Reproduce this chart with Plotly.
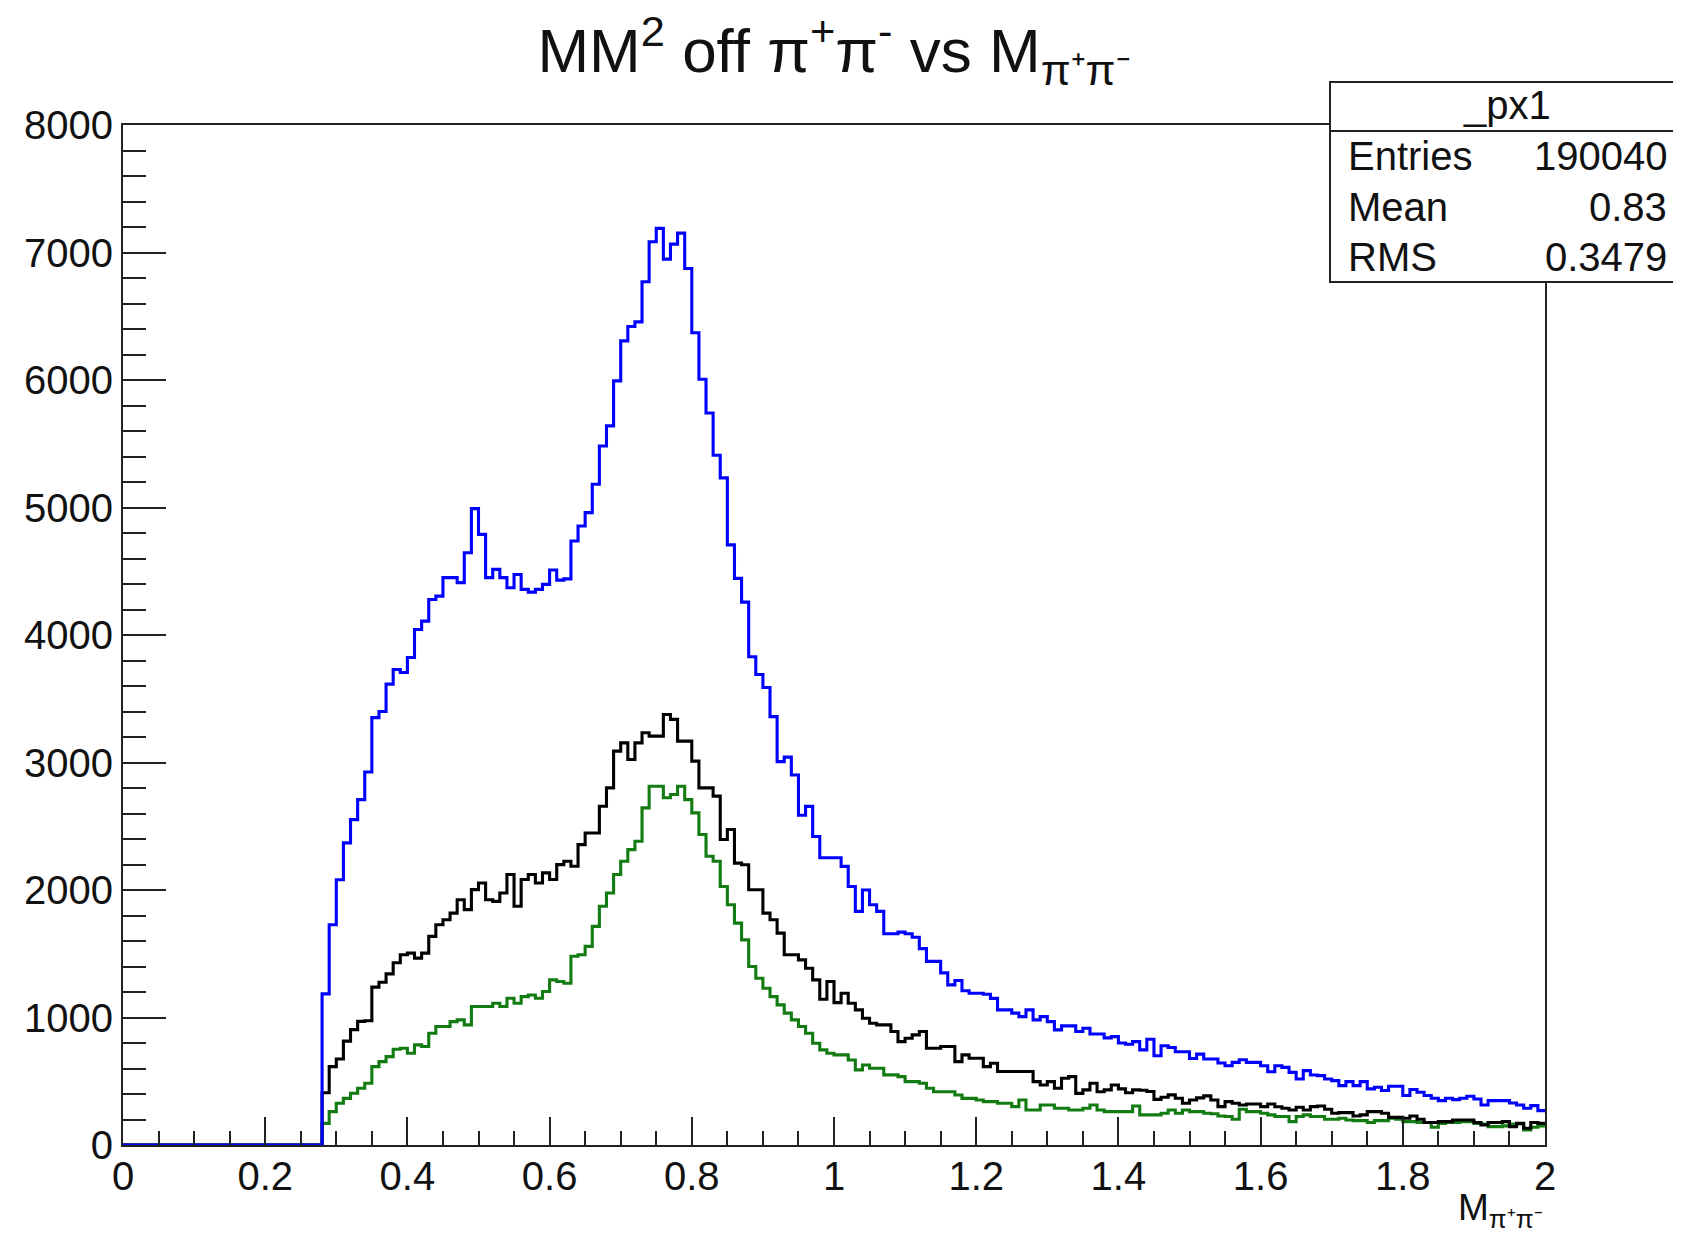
import numpy as np
import plotly.graph_objects as go

# ---------------- data (200 bins, 0..2, width 0.01) ----------------
x_lo, x_hi, n_bins = 0.0, 2.0, 200

zeros_head = [0, 0, 0, 0, 0, 0, 0, 0, 0, 0, 0, 0, 0, 0,
              0, 0, 0, 0, 0, 0, 0, 0, 0, 0, 0, 0, 0, 0]   # bins 0.00 .. 0.27

blue_counts = zeros_head + [
    1185, 1727, 2080, 2370, 2552, 2709, 2925, 3352, 3400, 3615,   # 0.28-0.37
    3729, 3706, 3823, 4043, 4109, 4279, 4305, 4450, 4450, 4411,   # 0.38-0.47
    4645, 4991, 4789, 4450, 4515, 4450, 4371, 4475, 4358, 4336,   # 0.48-0.57
    4358, 4397, 4510, 4430, 4440, 4737, 4855, 4960, 5182, 5482,   # 0.58-0.67
    5640, 5993, 6307, 6420, 6456, 6770, 7084, 7189, 6948, 7066,   # 0.68-0.77
    7152, 6875, 6371, 6006, 5741, 5410, 5232, 4707, 4444, 4258,   # 0.78-0.87
    3829, 3690, 3588, 3360, 3007, 3042, 2902, 2586, 2656, 2420,   # 0.88-0.97
    2253, 2253, 2253, 2185, 2028, 1832, 2000, 1884, 1832, 1657,   # 0.98-1.07
    1657, 1670, 1657, 1630, 1540, 1440, 1440, 1350, 1256, 1290,   # 1.08-1.17
    1210, 1190, 1190, 1182, 1150, 1060, 1060, 1034, 1007, 1060,   # 1.18-1.27
    981, 1007, 968, 903, 934, 934, 890, 916, 871, 871,            # 1.28-1.37
    840, 850, 800, 790, 811, 746, 830, 700, 778, 765,             # 1.38-1.47
    731, 731, 679, 713, 674, 674, 643, 622, 648, 669,             # 1.48-1.57
    648, 648, 622, 575, 622, 609, 570, 518, 583, 549,             # 1.58-1.67
    544, 518, 505, 466, 497, 466, 497, 440, 453, 427,             # 1.68-1.77
    461, 461, 388, 435, 414, 388, 367, 348, 367, 356,             # 1.78-1.87
    367, 382, 361, 314, 348, 348, 348, 330, 314, 288,             # 1.88-1.97
    309, 270,                                                     # 1.98-1.99
]

black_counts = zeros_head + [
    410, 615, 675, 815, 905, 970, 975, 1238, 1276, 1342,          # 0.28-0.37
    1430, 1492, 1505, 1466, 1505, 1636, 1728, 1767, 1819, 1924,   # 0.38-0.47
    1846, 2003, 2055, 1924, 1911, 1977, 2121, 1872, 2082, 2121,   # 0.48-0.57
    2055, 2134, 2082, 2199, 2225, 2186, 2356, 2447, 2447, 2657,   # 0.58-0.67
    2801, 3089, 3154, 3023, 3154, 3233, 3207, 3207, 3377, 3338,   # 0.68-0.77
    3168, 3168, 3011, 2801, 2801, 2736, 2396, 2474, 2211, 2198,   # 0.78-0.87
    2002, 2002, 1819, 1767, 1662, 1492, 1492, 1452, 1386, 1295,   # 0.88-0.97
    1143, 1282, 1117, 1190, 1112, 1060, 994, 955, 942, 942,       # 0.98-1.07
    890, 811, 837, 864, 890, 759, 759, 772, 772, 654,             # 1.08-1.17
    707, 680, 680, 615, 641, 576, 576, 576, 576, 576,             # 1.18-1.27
    497, 471, 497, 445, 523, 536, 405, 432, 484, 418,             # 1.28-1.37
    432, 471, 440, 410, 432, 430, 420, 358, 374, 393,             # 1.38-1.47
    367, 327, 353, 370, 385, 353, 301, 340, 327, 314,             # 1.48-1.57
    322, 322, 301, 322, 300, 288, 275, 296, 275, 301,             # 1.58-1.67
    306, 280, 249, 254, 254, 228, 236, 262, 262, 249,             # 1.68-1.77
    217, 217, 210, 228, 202, 176, 176, 183, 183, 196,             # 1.78-1.87
    196, 196, 176, 157, 176, 176, 183, 144, 170, 131,             # 1.88-1.97
    176, 170,                                                     # 1.98-1.99
]

green_counts = zeros_head + [
    170, 262, 327, 366, 406, 445, 484, 615, 654, 693,             # 0.28-0.37
    751, 759, 720, 785, 772, 877, 929, 929, 968, 981,             # 0.38-0.47
    942, 1086, 1086, 1086, 1112, 1086, 1151, 1112, 1164, 1177,    # 0.48-0.57
    1151, 1204, 1295, 1282, 1269, 1480, 1492, 1558, 1715, 1872,   # 0.58-0.67
    1977, 2121, 2225, 2317, 2382, 2644, 2814, 2814, 2723, 2749,   # 0.68-0.77
    2814, 2709, 2605, 2435, 2265, 2225, 2028, 1884, 1740, 1609,   # 0.78-0.87
    1400, 1308, 1229, 1164, 1099, 1034, 981, 929, 877, 798,       # 0.88-0.97
    746, 720, 707, 707, 667, 589, 628, 602, 602, 550,             # 0.98-1.07
    550, 536, 497, 497, 484, 445, 418, 418, 418, 392,             # 1.08-1.17
    366, 366, 353, 340, 340, 327, 327, 301, 353, 275,             # 1.18-1.27
    275, 314, 314, 288, 288, 275, 275, 288, 314, 275,             # 1.28-1.37
    262, 262, 262, 262, 306, 236, 236, 236, 249, 275,             # 1.38-1.47
    249, 275, 262, 262, 249, 245, 228, 223, 202, 280,             # 1.48-1.57
    262, 262, 249, 236, 223, 223, 183, 223, 236, 223,             # 1.58-1.67
    223, 202, 202, 210, 196, 191, 191, 176, 191, 191,             # 1.68-1.77
    210, 202, 183, 183, 176, 176, 139, 170, 176, 176,             # 1.78-1.87
    183, 183, 170, 165, 144, 144, 150, 165, 165, 118,             # 1.88-1.97
    139, 150,                                                     # 1.98-1.99
]

title_text = "MM<sup>2</sup> off π<sup>+</sup>π<sup>-</sup> vs M<sub>π⁺π⁻</sub>"
xaxis_title = "M<sub>π⁺π⁻</sub>"
stats_name = "_px1"
stats_labels = ["Entries", "Mean", "RMS"]
stats_values = ["190040", "0.83", "0.3479"]

# ---------------- figure ----------------
W, H = 1681, 1240
OFF = 8   # page body margin: the figure is drawn 8px right/down of the window corner
# plot-area box, in window pixels
L_win, R_win, T_win, B_win = 123, 1545, 125, 1145
L, R, T, B = L_win - OFF, R_win - OFF, T_win - OFF, B_win - OFF
FONT = "Liberation Sans, Arial, Helvetica, sans-serif"

edges = np.linspace(x_lo, x_hi, n_bins + 1)


def step_trace(counts, color):
    ys = list(counts) + [counts[-1]]
    return go.Scatter(x=edges, y=ys, mode="lines", line_shape="hv",
                      line=dict(color=color, width=3.1), hoverinfo="skip",
                      showlegend=False)


fig = go.Figure()
fig.add_trace(step_trace(green_counts, "#127c12"))
fig.add_trace(step_trace(black_counts, "#000000"))
fig.add_trace(step_trace(blue_counts, "#0000ff"))


def px_x(px_win):
    return (px_win - OFF - L) / (R - L)


def px_y(py_win):
    return (B - (py_win - OFF)) / (B - T)


axis_common = dict(showgrid=False, zeroline=False, showline=True, mirror=True,
                   linecolor="#222", linewidth=2, ticks="inside", tickwidth=1.6,
                   tickcolor="#222", tickfont=dict(family=FONT, size=40, color="#111"))

fig.update_xaxes(range=[0, 2], dtick=0.2, tick0=0, ticklen=28, ticklabelstandoff=-5,
                 minor=dict(dtick=0.05, ticks="inside", ticklen=14, tickwidth=1.6,
                            tickcolor="#222"),
                 **axis_common)
fig.update_yaxes(range=[0, 8000], dtick=1000, tick0=0, ticklen=43, tickformat="d",
                 minor=dict(dtick=200, ticks="inside", ticklen=23, tickwidth=1.6,
                            tickcolor="#222"),
                 **axis_common)

shapes = []
annotations = []

# stats box (drawn over the frame), window pixel coordinates
bx0, bx1, by0, by1, bsep = 1330, 1700, 82, 282, 131
shapes.append(dict(type="rect", xref="paper", yref="paper", layer="above",
                   x0=px_x(bx0), x1=px_x(bx1), y0=px_y(by1), y1=px_y(by0),
                   line=dict(color="#222", width=2), fillcolor="white"))
shapes.append(dict(type="line", xref="paper", yref="paper", layer="above",
                   x0=px_x(bx0), x1=px_x(bx1), y0=px_y(bsep), y1=px_y(bsep),
                   line=dict(color="#222", width=2)))

stat_font = dict(family=FONT, size=40, color="#111")
annotations.append(dict(text=stats_name, xref="paper", yref="paper",
                        x=px_x(1507), y=px_y(105), xanchor="center", yanchor="middle",
                        showarrow=False, font=stat_font))
row_y = [156, 207, 257]
for lab, val, ry in zip(stats_labels, stats_values, row_y):
    annotations.append(dict(text=lab, xref="paper", yref="paper",
                            x=px_x(1346), y=px_y(ry), xanchor="left", yanchor="middle",
                            showarrow=False, font=stat_font))
    annotations.append(dict(text=val, xref="paper", yref="paper",
                            x=px_x(1669), y=px_y(ry), xanchor="right", yanchor="middle",
                            showarrow=False, font=stat_font))

# x-axis title at bottom right
annotations.append(dict(text=xaxis_title, xref="paper", yref="paper",
                        x=1.0, y=px_y(1210), xanchor="right", yanchor="middle",
                        showarrow=False, font=dict(family=FONT, size=37, color="#111")))

fig.update_layout(
    width=W, height=H,
    margin=dict(l=L, r=W - R, t=T, b=H - B, pad=0),
    paper_bgcolor="white", plot_bgcolor="white",
    title=dict(text=title_text, x=(L + R) / 2 / W, xanchor="center",
               y=1 - (50 - OFF) / H, yanchor="middle", yref="container",
               font=dict(family=FONT, size=62, color="#111")),
    shapes=shapes, annotations=annotations,
    showlegend=False,
)

fig.write_html("out.html")
